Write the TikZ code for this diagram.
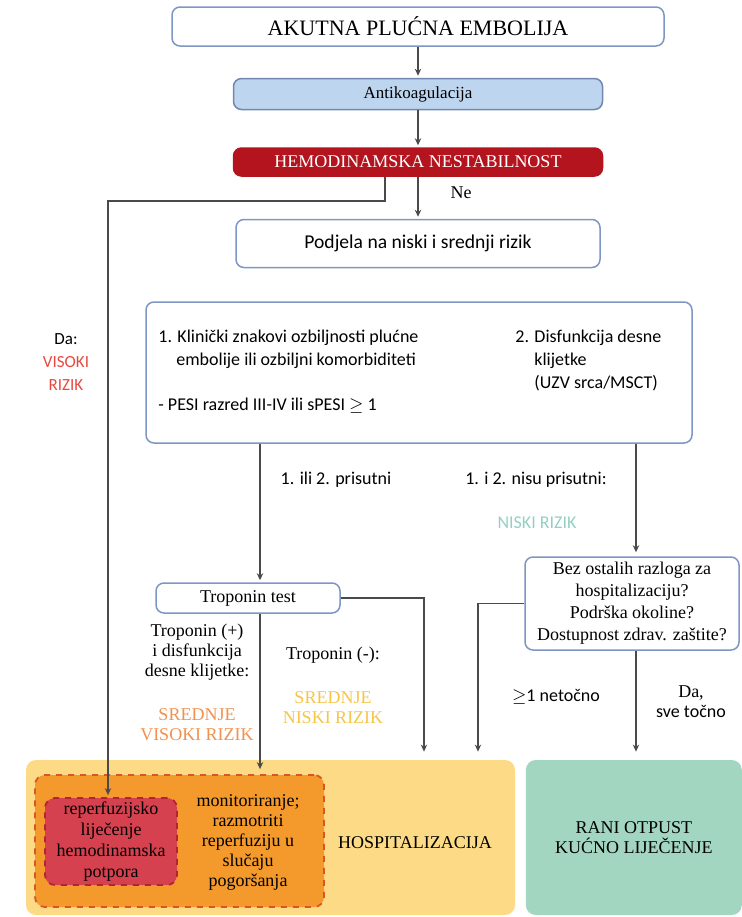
\documentclass[tikz,border=0pt]{standalone}
\usepackage{fontspec}
\setmainfont{Liberation Serif}
\newfontfamily\calibfont{Carlito}
\usepackage{tikz}
\usetikzlibrary{arrows.meta,positioning}

\definecolor{boxblue}{HTML}{7E96C4}
\definecolor{antiblue}{HTML}{BDD5EE}
\definecolor{hemored}{HTML}{B3141E}
\definecolor{hospyellow}{HTML}{FCDA86}
\definecolor{ranigreen}{HTML}{A2D6C1}
\definecolor{monorange}{HTML}{F49A2C}
\definecolor{monedge}{HTML}{D8552A}
\definecolor{repred}{HTML}{D5414F}
\definecolor{repedge}{HTML}{B02436}
\definecolor{visred}{HTML}{E9483E}
\definecolor{svorange}{HTML}{F0914F}
\definecolor{snyellow}{HTML}{F6C545}
\definecolor{niskiteal}{HTML}{93D0C2}
\definecolor{linegray}{HTML}{4A4A4A}

\begin{document}
\begin{tikzpicture}[
    x=0.5pt, y=-0.5pt,
    font=\fontsize{9}{10}\selectfont,
    flowbox/.style={draw=boxblue, rounded corners=4pt, line width=0.75pt, fill=white, align=center, inner sep=0pt},
    riskbox/.style={rounded corners=5pt, inner sep=0pt, align=center},
    dashbox/.style={dashed, line width=0.9pt, rounded corners=5pt, inner sep=0pt, align=center},
    sanstxt/.style={font=\calibfont\fontsize{9}{11.5}\selectfont, inner sep=0pt},
    sertxt/.style={font=\fontsize{9}{10}\selectfont, inner sep=0pt, align=center},
    arrow/.style={-{Stealth[length=3.5pt,width=3.2pt]}, line width=0.7pt, draw=linegray, shorten >=1pt},
    line/.style={line width=0.7pt, draw=linegray}
]
\useasboundingbox (0,0) rectangle (741,917);

% top chain
\node[flowbox, minimum width=246pt, minimum height=19.5pt, font=\fontsize{11}{12}\selectfont] (title) at (418,26.5) {AKUTNA PLUĆNA EMBOLIJA};
\node[flowbox, fill=antiblue, draw=boxblue!90!black, minimum width=184.5pt, minimum height=15.5pt, font=\fontsize{8.5}{10}\selectfont, below=15.5pt of title] (antiko) {Antikoagulacija};
\node[flowbox, fill=hemored, draw=hemored, text=white, minimum width=184.5pt, minimum height=14pt, below=18.5pt of antiko] (hemo) {HEMODINAMSKA NESTABILNOST};
\node[flowbox, minimum width=182pt, minimum height=24pt, font=\calibfont\fontsize{9.8}{11}\selectfont, below=21pt of hemo] (podjela) {Podjela na niski i srednji rizik};

\draw[arrow] (title.south) -- (antiko.north);
\draw[arrow] (antiko.south) -- (hemo.north);
\draw[arrow] (hemo.south) -- (podjela.north);
\node[sertxt] (ne) at (461,193) {Ne};

% criteria box
\node[flowbox, minimum width=273pt, minimum height=70.5pt] (klin) at (419,372.5) {};
\node[sanstxt, anchor=north west, align=left] (klintxt) at (158,330) {1. Klinički znakovi ozbiljnosti plućne\\\hspace{9pt}embolije ili ozbiljni komorbiditeti\\[11pt]- PESI razred III-IV ili sPESI $\geq$ 1};
\node[sanstxt, anchor=north west, align=left] (disftxt) at (515,330) {2. Disfunkcija desne\\\hspace{9.5pt}klijetke\\\hspace{9.5pt}(UZV srca/MSCT)};

\node[sanstxt, font=\calibfont\fontsize{8.5}{11.5}\selectfont, align=center] (dalbl) at (66,362) {Da:\\\textcolor{visred}{VISOKI}\\\textcolor{visred}{RIZIK}};
\node[sanstxt] (prisutni) at (336,480) {1. ili 2. prisutni};
\node[sanstxt] (nisu) at (536,480) {1. i 2. nisu prisutni:};
\node[sanstxt, text=niskiteal] (niski) at (537,523) {NISKI RIZIK};

% troponin and discharge question
\node[flowbox, minimum width=92pt, minimum height=15pt] (tropo) at (248,598) {Troponin test};
\node[flowbox, minimum width=107pt, minimum height=46.5pt, font=\fontsize{9}{11}\selectfont] (bez) at (632,603.5) {Bez ostalih razloga za\\hospitalizaciju?\\Podrška okoline?\\Dostupnost zdrav. zaštite?};

\node[sertxt] (tropplus) at (197,652) {Troponin (+)\\i disfunkcija\\desne klijetke:};
\node[sertxt, text=svorange] (srvis) at (197,725) {SREDNJE\\VISOKI RIZIK};
\node[sertxt] (tropminus) at (333,655) {Troponin (-):};
\node[sertxt, text=snyellow] (srnis) at (333,708) {SREDNJE\\NISKI RIZIK};
\node[sanstxt] (netocno) at (556,697) {$\geq$1 netočno};
\node[sertxt] (svetocno) at (691,702) {Da,\\{\calibfont sve točno}};

% outcome boxes
\node[riskbox, fill=hospyellow, minimum width=244.5pt, minimum height=77.5pt] (hosp) at (270.5,837.5) {};
\node[riskbox, fill=ranigreen, minimum width=108pt, minimum height=77.5pt, right=5pt of hosp] (rani) {RANI OTPUST\\KUĆNO LIJEČENJE};
\node[dashbox, draw=monedge, fill=monorange, minimum width=144.5pt, minimum height=66pt] (mon) at (179.5,841) {};
\node[dashbox, draw=repedge, fill=repred, minimum width=66pt, minimum height=43.5pt, font=\fontsize{9}{10.5}\selectfont] (rep) at (111,841.5) {reperfuzijsko\\liječenje\\hemodinamska\\potpora};
\node[sertxt] (montxt) at (248,842) {monitoriranje;\\razmotriti\\reperfuziju u\\slučaju\\pogoršanja};
\node[sertxt] (hosptxt) at (415,843) {HOSPITALIZACIJA};

% connectors
\coordinate (bendL) at (108,201);
\coordinate (xleft) at (260,0);
\coordinate (xright) at (636,0);
\coordinate (troprun) at (424,0);
\coordinate (bezrun) at (478,0);

\draw[arrow] ([xshift=-16.5pt]hemo.south) |- (bendL) -- (rep.north -| bendL);
\draw[arrow] (klin.south -| xleft) -- (tropo.north -| xleft);
\draw[arrow, shorten >=2pt] (klin.south -| xright) -- (bez.north -| xright);
\draw[arrow, shorten >=2.5pt] (tropo.south -| xleft) -- (mon.north -| xleft);
\draw[arrow, shorten >=4pt] (tropo.east) -| (hosp.north -| troprun);
\draw[arrow, shorten >=4pt] (bez.west) -| (hosp.north -| bezrun);
\draw[arrow, shorten >=4pt] (bez.south -| xright) -- (rani.north -| xright);

\end{tikzpicture}
\end{document}
